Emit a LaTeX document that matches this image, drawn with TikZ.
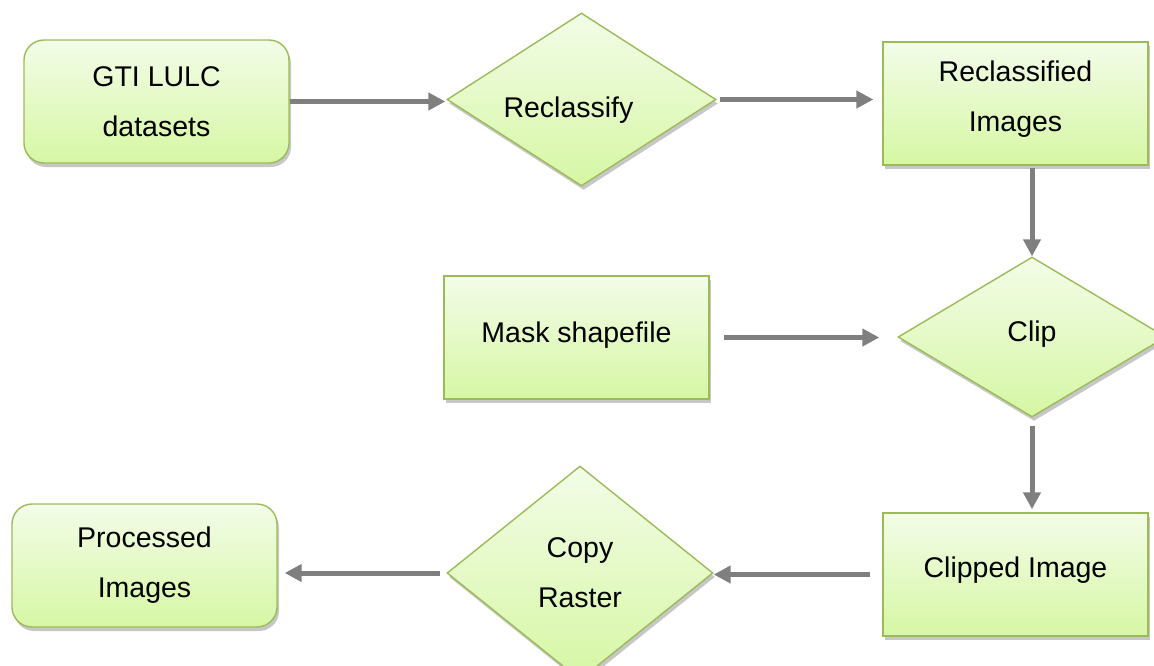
\documentclass[tikz,border=0pt]{standalone}
\usepackage{fontspec}
\setmainfont{Liberation Sans}
\usetikzlibrary{shapes.geometric,arrows.meta,shadows}
\definecolor{boxline}{HTML}{9BBB59}
\definecolor{filltop}{HTML}{F3FCE8}
\definecolor{fillbot}{HTML}{D6F7A4}
\definecolor{flow}{HTML}{7F7F7F}
\tikzset{
  base/.style={draw=boxline, line width=1.4pt, top color=filltop, bottom color=fillbot,
    drop shadow={shadow xshift=2pt, shadow yshift=-4pt, opacity=0.22, fill=black},
    font=\fontsize{28.5}{50}\selectfont, align=center, inner sep=0pt},
  stepbox/.style={base, rectangle, minimum width=265pt, minimum height=123pt},
  roundbox/.style={stepbox, rounded corners=20pt},
  choice/.style={base, diamond, aspect=1.5},
  flowarrow/.style={draw=flow, line width=5pt, -{Triangle[length=17pt,width=17pt]}}
}
\begin{document}
\begin{tikzpicture}[x=1pt,y=-1pt]
\useasboundingbox (0,0) rectangle (1154,665);

\node[roundbox] (gti) at (156.5,101.5) {GTI LULC\\datasets};
\node[choice, minimum width=269pt, minimum height=173pt, text height=36pt, text depth=0pt]
  (recl) at (581.5,99.5) {Reclassify\hspace*{26pt}};
\node[stepbox, text depth=15pt] (reimg) at (1015.5,103.5) {Reclassified\\Images};
\node[stepbox, text height=20pt, text depth=10pt] (mask) at (576.5,337.5) {Mask shapefile};
\node[choice, minimum width=268pt, minimum height=160pt, text height=20pt, text depth=12pt]
  (clip) at (1032,337) {Clip};
\node[stepbox, text height=20pt, text depth=15pt] (clipped) at (1015.5,574.5) {Clipped Image};
\node[choice, minimum width=266pt, minimum height=214pt] (copy) at (580,573) {Copy\\Raster};
\node[roundbox] (proc) at (144.5,565.5) {Processed\\Images};

\draw[flowarrow, shorten >=1pt] (gti.east) -- (gti.east -| recl.west);
\draw[flowarrow, shorten <=3pt, shorten >=9pt] (recl.east) -- (recl.east -| reimg.west);
\draw[flowarrow, shorten <=2pt] (reimg.south -| clip.north) -- (clip.north);
\draw[flowarrow, shorten <=14pt, shorten >=18pt] (mask.east) -- (mask.east -| clip.west);
\draw[flowarrow, shorten <=8pt, shorten >=3pt] (clip.south) -- (clip.south |- clipped.north);
\draw[flowarrow, shorten <=12pt] (clipped.west) -- (clipped.west -| copy.east);
\draw[flowarrow, shorten <=6pt, shorten >=7pt] (copy.west) -- (copy.west -| proc.east);
\end{tikzpicture}
\end{document}
